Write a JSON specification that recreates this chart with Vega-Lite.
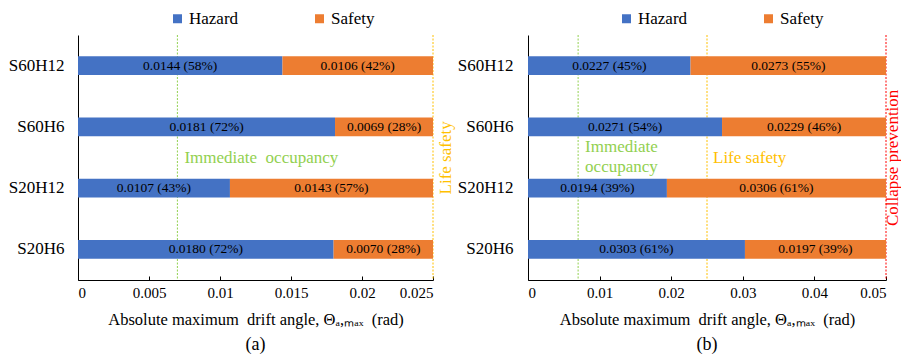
{
  "$schema": "https://vega.github.io/schema/vega-lite/v6.json",
  "padding": {"left": 8, "top": 10, "right": 0, "bottom": 0},
  "config": {
    "font": "Liberation Serif",
    "mark": {"font": "Liberation Serif"},
    "text": {"font": "Liberation Serif"},
    "view": {"stroke": null},
    "concat": {"spacing": 3},
    "axis": {"grid": false, "labelFont": "Liberation Serif", "titleFont": "Liberation Serif", "labelColor": "black", "titleColor": "black", "domainColor": "black", "tickColor": "black", "titleFontWeight": "normal"},
    "title": {"font": "Liberation Serif", "fontSize": 18, "fontWeight": "normal", "color": "black"},
    "legend": {"labelFont": "Liberation Serif", "labelFontSize": 17, "labelColor": "black", "symbolType": "square", "symbolSize": 81, "symbolStrokeWidth": 0, "labelOffset": 3, "columnPadding": 72, "direction": "horizontal", "orient": "none", "title": null}
  },
  "datasets": {
    "bars": [
      {"panel": "a", "config": "S60H12", "state": "Hazard", "value": 0.0144, "label": "0.0144 (58%)"},
      {"panel": "a", "config": "S60H12", "state": "Safety", "value": 0.0106, "label": "0.0106 (42%)"},
      {"panel": "a", "config": "S60H6", "state": "Hazard", "value": 0.0181, "label": "0.0181 (72%)"},
      {"panel": "a", "config": "S60H6", "state": "Safety", "value": 0.0069, "label": "0.0069 (28%)"},
      {"panel": "a", "config": "S20H12", "state": "Hazard", "value": 0.0107, "label": "0.0107 (43%)"},
      {"panel": "a", "config": "S20H12", "state": "Safety", "value": 0.0143, "label": "0.0143 (57%)"},
      {"panel": "a", "config": "S20H6", "state": "Hazard", "value": 0.0180, "label": "0.0180 (72%)"},
      {"panel": "a", "config": "S20H6", "state": "Safety", "value": 0.0070, "label": "0.0070 (28%)"},
      {"panel": "b", "config": "S60H12", "state": "Hazard", "value": 0.0227, "label": "0.0227 (45%)"},
      {"panel": "b", "config": "S60H12", "state": "Safety", "value": 0.0273, "label": "0.0273 (55%)"},
      {"panel": "b", "config": "S60H6", "state": "Hazard", "value": 0.0271, "label": "0.0271 (54%)"},
      {"panel": "b", "config": "S60H6", "state": "Safety", "value": 0.0229, "label": "0.0229 (46%)"},
      {"panel": "b", "config": "S20H12", "state": "Hazard", "value": 0.0194, "label": "0.0194 (39%)"},
      {"panel": "b", "config": "S20H12", "state": "Safety", "value": 0.0306, "label": "0.0306 (61%)"},
      {"panel": "b", "config": "S20H6", "state": "Hazard", "value": 0.0303, "label": "0.0303 (61%)"},
      {"panel": "b", "config": "S20H6", "state": "Safety", "value": 0.0197, "label": "0.0197 (39%)"}
    ],
    "limits": [
      {"panel": "a", "level": "Immediate occupancy", "limit": 0.007},
      {"panel": "a", "level": "Life safety", "limit": 0.025},
      {"panel": "b", "level": "Immediate occupancy", "limit": 0.007},
      {"panel": "b", "level": "Life safety", "limit": 0.025},
      {"panel": "b", "level": "Collapse prevention", "limit": 0.05}
    ],
    "hnotes": [
      {"panel": "a", "level": "Immediate occupancy", "limit": 0.007, "note": "Immediate\u00a0\u00a0occupancy"},
      {"panel": "b", "level": "Life safety", "limit": 0.025, "note": "Life safety"}
    ],
    "mnotes": [
      {"panel": "b", "level": "Immediate occupancy", "limit": 0.007, "note": "Immediate\noccupancy"}
    ],
    "vnotes": [
      {"panel": "a", "level": "Life safety", "limit": 0.025, "note": "Life safety"},
      {"panel": "b", "level": "Collapse prevention", "limit": 0.05, "note": "Collapse prevention"}
    ]
  },
  "resolve": {"scale": {"color": "independent", "x": "independent"}, "legend": {"color": "independent"}},
  "hconcat": [
    {
      "width": 355,
      "height": 245,
      "title": {"text": "(a)", "orient": "bottom", "offset": 8},
      "layer": [
        {
          "data": {"name": "limits"},
          "transform": [{"filter": "datum.panel === 'a'"}],
          "mark": {"type": "rule", "strokeDash": [2, 1.5], "strokeWidth": 1},
          "encoding": {
            "x": {"field": "limit", "type": "quantitative"},
            "stroke": {"field": "level", "type": "nominal", "scale": {"domain": ["Immediate occupancy", "Life safety", "Collapse prevention"], "range": ["#92D050", "#FFC000", "#FF0000"]}, "legend": null}
          }
        },
        {
          "data": {"name": "bars"},
          "transform": [{"filter": "datum.panel === 'a'"}],
          "mark": {"type": "bar"},
          "encoding": {
            "y": {"field": "config", "type": "nominal", "sort": ["S60H12", "S60H6", "S20H12", "S20H6"], "scale": {"paddingInner": 0.69, "paddingOuter": 0.345}, "title": null, "axis": {"ticks": false, "labelFontSize": 17, "labelPadding": 14}},
            "x": {"field": "value", "type": "quantitative", "stack": "zero", "scale": {"domain": [0, 0.025], "nice": false}, "title": "Absolute maximum\u00a0\u00a0drift angle, Θₐ,ₘₐₓ\u00a0\u00a0(rad)", "axis": {"values": [0, 0.005, 0.01, 0.015, 0.02, 0.025], "format": "~g", "labelFontSize": 15, "titleFontSize": 16.5, "tickSize": -4, "labelPadding": 9, "titlePadding": 11}},
            "color": {"field": "state", "type": "nominal", "scale": {"domain": ["Hazard", "Safety"], "range": ["#4472C4", "#ED7D31"]}, "legend": {"legendX": 91, "legendY": -25}},
            "order": {"field": "state", "type": "ordinal", "sort": "ascending"}
          }
        },
        {
          "data": {"name": "bars"},
          "transform": [{"filter": "datum.panel === 'a'"}],
          "mark": {"type": "text", "font": "Liberation Serif", "fontSize": 13.5, "color": "black", "baseline": "middle"},
          "encoding": {
            "y": {"field": "config", "type": "nominal", "sort": ["S60H12", "S60H6", "S20H12", "S20H6"]},
            "x": {"field": "value", "type": "quantitative", "stack": "zero", "bandPosition": 0.5},
            "detail": {"field": "state", "type": "nominal"},
            "order": {"field": "state", "type": "ordinal", "sort": "ascending"},
            "text": {"field": "label", "type": "nominal"}
          }
        },
        {
          "data": {"name": "hnotes"},
          "transform": [{"filter": "datum.panel === 'a'"}],
          "mark": {"type": "text", "font": "Liberation Serif", "fontSize": 17, "align": "left", "baseline": "middle", "dx": 7, "dy": 31},
          "encoding": {
            "x": {"field": "limit", "type": "quantitative"},
            "y": {"datum": "S60H6", "type": "nominal"},
            "fill": {"field": "level", "type": "nominal", "scale": {"domain": ["Immediate occupancy", "Life safety", "Collapse prevention"], "range": ["#92D050", "#FFC000", "#FF0000"]}, "legend": null},
            "text": {"field": "note", "type": "nominal"}
          }
        },
        {
          "data": {"name": "vnotes"},
          "transform": [{"filter": "datum.panel === 'a'"}],
          "mark": {"type": "text", "font": "Liberation Serif", "fontSize": 17, "align": "center", "baseline": "middle", "angle": 270, "dx": -31, "dy": 13},
          "encoding": {
            "x": {"field": "limit", "type": "quantitative"},
            "y": {"datum": "S60H6", "type": "nominal"},
            "fill": {"field": "level", "type": "nominal"},
            "text": {"field": "note", "type": "nominal"}
          }
        }
      ]
    },
    {
      "width": 358,
      "height": 245,
      "title": {"text": "(b)", "orient": "bottom", "offset": 8},
      "layer": [
        {
          "data": {"name": "limits"},
          "transform": [{"filter": "datum.panel === 'b'"}],
          "mark": {"type": "rule", "strokeDash": [2, 1.5], "strokeWidth": 1},
          "encoding": {
            "x": {"field": "limit", "type": "quantitative"},
            "stroke": {"field": "level", "type": "nominal", "scale": {"domain": ["Immediate occupancy", "Life safety", "Collapse prevention"], "range": ["#92D050", "#FFC000", "#FF0000"]}, "legend": null}
          }
        },
        {
          "data": {"name": "bars"},
          "transform": [{"filter": "datum.panel === 'b'"}],
          "mark": {"type": "bar"},
          "encoding": {
            "y": {"field": "config", "type": "nominal", "sort": ["S60H12", "S60H6", "S20H12", "S20H6"], "scale": {"paddingInner": 0.69, "paddingOuter": 0.345}, "title": null, "axis": {"ticks": false, "labelFontSize": 17, "labelPadding": 15}},
            "x": {"field": "value", "type": "quantitative", "stack": "zero", "scale": {"domain": [0, 0.05], "nice": false}, "title": "Absolute maximum\u00a0\u00a0drift angle, Θₐ,ₘₐₓ\u00a0\u00a0(rad)", "axis": {"values": [0, 0.01, 0.02, 0.03, 0.04, 0.05], "format": "~g", "labelFontSize": 15, "titleFontSize": 16.5, "tickSize": -4, "labelPadding": 9, "titlePadding": 11}},
            "color": {"field": "state", "type": "nominal", "scale": {"domain": ["Hazard", "Safety"], "range": ["#4472C4", "#ED7D31"]}, "legend": {"legendX": 90, "legendY": -25}},
            "order": {"field": "state", "type": "ordinal", "sort": "ascending"}
          }
        },
        {
          "data": {"name": "bars"},
          "transform": [{"filter": "datum.panel === 'b'"}],
          "mark": {"type": "text", "font": "Liberation Serif", "fontSize": 13.5, "color": "black", "baseline": "middle"},
          "encoding": {
            "y": {"field": "config", "type": "nominal", "sort": ["S60H12", "S60H6", "S20H12", "S20H6"]},
            "x": {"field": "value", "type": "quantitative", "stack": "zero", "bandPosition": 0.5},
            "detail": {"field": "state", "type": "nominal"},
            "order": {"field": "state", "type": "ordinal", "sort": "ascending"},
            "text": {"field": "label", "type": "nominal"}
          }
        },
        {
          "data": {"name": "hnotes"},
          "transform": [{"filter": "datum.panel === 'b'"}],
          "mark": {"type": "text", "font": "Liberation Serif", "fontSize": 17, "align": "left", "baseline": "middle", "dx": 6, "dy": 31},
          "encoding": {
            "x": {"field": "limit", "type": "quantitative"},
            "y": {"datum": "S60H6", "type": "nominal"},
            "fill": {"field": "level", "type": "nominal", "scale": {"domain": ["Immediate occupancy", "Life safety", "Collapse prevention"], "range": ["#92D050", "#FFC000", "#FF0000"]}, "legend": null},
            "text": {"field": "note", "type": "nominal"}
          }
        },
        {
          "data": {"name": "mnotes"},
          "transform": [{"filter": "datum.panel === 'b'"}],
          "mark": {"type": "text", "font": "Liberation Serif", "fontSize": 17, "align": "left", "baseline": "middle", "dx": 7, "dy": 20, "lineBreak": "\n", "lineHeight": 20},
          "encoding": {
            "x": {"field": "limit", "type": "quantitative"},
            "y": {"datum": "S60H6", "type": "nominal"},
            "fill": {"field": "level", "type": "nominal"},
            "text": {"field": "note", "type": "nominal"}
          }
        },
        {
          "data": {"name": "vnotes"},
          "transform": [{"filter": "datum.panel === 'b'"}],
          "mark": {"type": "text", "font": "Liberation Serif", "fontSize": 17, "align": "center", "baseline": "middle", "angle": 270, "dx": -31, "dy": 7},
          "encoding": {
            "x": {"field": "limit", "type": "quantitative"},
            "y": {"datum": "S60H6", "type": "nominal"},
            "fill": {"field": "level", "type": "nominal"},
            "text": {"field": "note", "type": "nominal"}
          }
        }
      ]
    }
  ]
}
